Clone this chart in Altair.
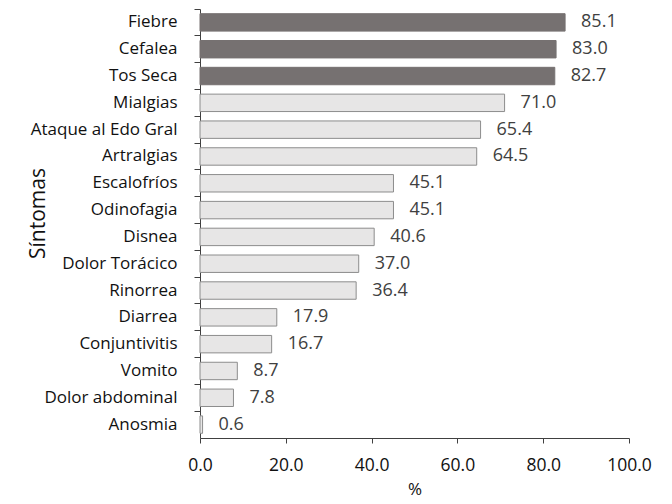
import altair as alt
import pandas as pd

sintomas = ["Fiebre", "Cefalea", "Tos Seca", "Mialgias", "Ataque al Edo Gral", "Artralgias",
            "Escalofríos", "Odinofagia", "Disnea", "Dolor Torácico", "Rinorrea", "Diarrea",
            "Conjuntivitis", "Vomito", "Dolor abdominal", "Anosmia"]
valores = [85.1, 83.0, 82.7, 71.0, 65.4, 64.5, 45.1, 45.1, 40.6, 37.0, 36.4, 17.9, 16.7, 8.7, 7.8, 0.6]
grupo = ["top", "top", "top"] + ["rest"] * 13

df = pd.DataFrame({"s": sintomas, "v": valores, "g": grupo})

FONT = "Open Sans"
TXT = "#404040"

y = alt.Y("s:N", sort=sintomas, title="Síntomas",
          scale=alt.Scale(paddingInner=0, paddingOuter=0),
          axis=alt.Axis(labelFontSize=17, labelFont=FONT, labelColor="#111111",
                        titleFont=FONT, titleFontSize=21, titleFontWeight="normal", titleColor="#111111",
                        titleX=-162, titleY=204, titleAngle=270, titleAlign="center", titleBaseline="middle",
                        labelPadding=17, tickSize=6, bandPosition=0,
                        domainColor="#404040", tickColor="#404040", grid=False, labelLimit=300))
x = alt.X("v:Q", title="%", scale=alt.Scale(domain=[0, 100], nice=False),
          axis=alt.Axis(values=[0, 20, 40, 60, 80, 100], format=".1f", labelFontSize=17.5,
                        labelFont=FONT, labelColor="#111111", titleFont=FONT, titleFontSize=17,
                        titleFontWeight="normal", titleColor="#111111", tickSize=5, labelPadding=13,
                        titleY=51, titleBaseline="middle",
                        domainColor="#404040", tickColor="#404040", grid=False,
                        labelOverlap=False, labelFlush=False))

bars = alt.Chart(df).mark_bar(strokeWidth=1, height=alt.RelativeBandSize(0.65)).encode(
    y=y, x=x,
    color=alt.Color("g:N", scale=alt.Scale(domain=["top", "rest"], range=["#767171", "#e7e6e6"]), legend=None),
    stroke=alt.Stroke("g:N", scale=alt.Scale(domain=["top", "rest"], range=["#767171", "#8c8c8c"]), legend=None),
)
labels = alt.Chart(df).mark_text(align="left", dx=16, fontSize=18, font=FONT, color=TXT).encode(
    y=alt.Y("s:N", sort=sintomas), x="v:Q", text=alt.Text("v:Q", format=".1f"))

chart = (bars + labels).properties(
    width=429, height=429, autosize=alt.AutoSizeParams(type="none"),
    padding={"left": 192, "top": 1, "right": 35, "bottom": 62},
).configure_view(stroke=None)
chart.save("out.html", embed_options={"renderer": "svg", "actions": False})
